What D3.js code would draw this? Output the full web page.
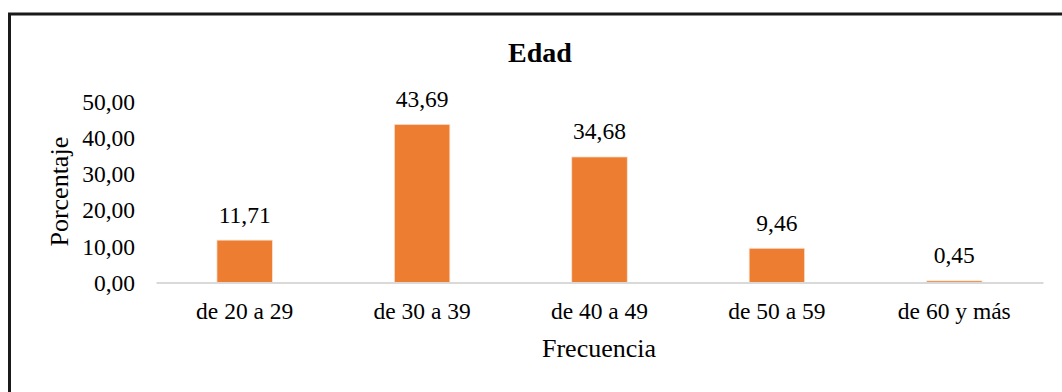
<!DOCTYPE html>
<html lang="es">
<head>
<meta charset="utf-8">
<script src="https://cdn.jsdelivr.net/npm/d3@7"></script>
<style>
  html, body { margin: 0; padding: 0; background: #fff; }
  svg text { font-family: "Liberation Serif", "Times New Roman", serif !important; }
</style>
</head>
<body>
<svg id="chart" width="1062" height="392"></svg>
<script>
// Age groups and their share of respondents (%)
const categories = ["de 20 a 29", "de 30 a 39", "de 40 a 49", "de 50 a 59", "de 60 y más"];
const values = [11.71, 43.69, 34.68, 9.46, 0.45];
const yTicks = [0, 10, 20, 30, 40, 50];

const title = "Edad";
const xTitle = "Frecuencia";
const yTitle = "Porcentaje";

const fmt = v => v.toFixed(2).replace(".", ",");

const svg = d3.select("#chart");

// Frame around the chart (open to the right and bottom)
svg.append("rect")
  .attr("x", 9.5).attr("y", 14)
  .attr("width", 1100).attr("height", 420)
  .attr("fill", "none")
  .attr("stroke", "#1a1a1a")
  .attr("stroke-width", 3);

const plot = { left: 156, right: 1043, top: 101.5, bottom: 282.5 };

const x = d3.scaleBand()
  .domain(categories)
  .range([plot.left, plot.right])
  .paddingInner(0)
  .paddingOuter(0);

const y = d3.scaleLinear()
  .domain([0, 50])
  .range([plot.bottom, plot.top]);

const barW = x.bandwidth() * 0.313;

// Y axis tick labels (no axis line, no gridlines)
const yAxis = d3.axisLeft(y)
  .tickValues(yTicks)
  .tickFormat(fmt)
  .tickSize(0)
  .tickPadding(0);

const gy = svg.append("g")
  .attr("transform", `translate(135,0)`)
  .call(yAxis)
  .attr("font-family", null)
  .attr("font-size", null);
gy.select(".domain").remove();
gy.selectAll("text")
  .style("font-size", "23.5px")
  .attr("fill", "#000")
  .attr("dy", "0.33em");

// Bars
svg.append("g")
  .selectAll("rect")
  .data(values)
  .join("rect")
  .attr("x", (d, i) => x(categories[i]) + x.bandwidth() / 2 - barW / 2)
  .attr("y", d => y(d))
  .attr("width", barW)
  .attr("height", d => y(0) - y(d))
  .attr("fill", "#ED7D31")
  .attr("stroke", "#fbe5d6")
  .attr("stroke-width", 0.75);

// X axis baseline and category labels
const xAxis = d3.axisBottom(x).tickSize(0).tickPadding(0);
const gx = svg.append("g")
  .attr("transform", `translate(0,${plot.bottom})`)
  .call(xAxis)
  .attr("font-family", null)
  .attr("font-size", null);
gx.select(".domain")
  .attr("stroke", "#d9d9d9")
  .attr("stroke-width", 2);
gx.selectAll("text")
  .style("font-size", "23.5px")
  .attr("fill", "#000")
  .attr("y", 0)
  .attr("dy", 0)
  .attr("transform", "translate(0,36.8)");

// Value labels above bars
svg.append("g")
  .selectAll("text")
  .data(values)
  .join("text")
  .attr("x", (d, i) => x(categories[i]) + x.bandwidth() / 2)
  .attr("y", d => y(d) - 17.6)
  .attr("text-anchor", "middle")
  .style("font-size", "23.5px")
  .attr("fill", "#000")
  .text(fmt);

// Titles
svg.append("text")
  .attr("x", 540).attr("y", 61.7)
  .attr("text-anchor", "middle")
  .style("font-size", "28px")
  .attr("font-weight", "bold")
  .attr("fill", "#000")
  .text(title);

svg.append("text")
  .attr("x", 599).attr("y", 356.7)
  .attr("text-anchor", "middle")
  .style("font-size", "26px")
  .attr("fill", "#000")
  .text(xTitle);

svg.append("text")
  .attr("transform", "translate(68,191.7) rotate(-90)")
  .attr("text-anchor", "middle")
  .style("font-size", "26px")
  .attr("fill", "#000")
  .text(yTitle);
</script>
</body>
</html>
